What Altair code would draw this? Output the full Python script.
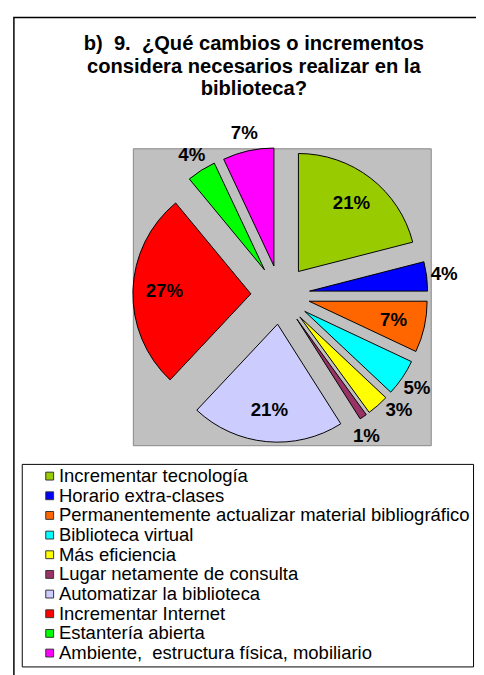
import altair as alt
import pandas as pd

# ---- data ----
categories = [
    "Incrementar tecnología",
    "Horario extra-clases",
    "Permanentemente actualizar material bibliográfico",
    "Biblioteca virtual",
    "Más eficiencia",
    "Lugar netamente de consulta",
    "Automatizar la biblioteca",
    "Incrementar Internet",
    "Estantería abierta",
    "Ambiente,  estructura física, mobiliario",
]
values = [21, 4, 7, 5, 3, 1, 21, 27, 4, 7]
colors = ["#99CC00", "#0000FF", "#FF6600", "#00FFFF", "#FFFF00",
          "#993366", "#CCCCFF", "#FF0000", "#00FF00", "#FF00FF"]

NBSP = "\u00a0"
title_lines = [f"b){NBSP} 9.{NBSP} ¿Qué cambios o incrementos",
               "considera necesarios realizar en la",
               "biblioteca?"]
legend_labels = [c.replace("  ", NBSP + " ") for c in categories]

# ---- label placement (Excel "best fit" result) ----
label_inside = [True, False, True, False, False, False, True, True, False, False]
label_nudge_deg = [0, 0, 0, 0, -4.5, 2.8, 0, 0, 0, 0]

# ---- layout / style ----
W, H = 303, 302
R = 120
EXPLODE = 30
R_LABEL_IN = 118
R_LABEL_OUT = 168
FONT = "Liberation Sans"

df = pd.DataFrame({"cat": legend_labels, "value": values,
                   "inside": label_inside, "nudge": label_nudge_deg,
                   "idx": list(range(len(values)))})

base = (
    alt.Chart(df)
    .transform_joinaggregate(total="sum(value)")
    .transform_window(cum="sum(value)", sort=[alt.SortField("idx")], frame=[None, 0])
    .transform_calculate(t0="2*PI*(datum.cum-datum.value)/datum.total")
    .transform_calculate(t1="2*PI*datum.cum/datum.total")
    .transform_calculate(mid="(datum.t0+datum.t1)/2")
    .transform_calculate(ex=f"{EXPLODE}*sin(datum.mid)")
    .transform_calculate(ey=f"{EXPLODE}*cos(datum.mid)")
    .transform_calculate(lr=f"datum.inside ? {R_LABEL_IN} : {R_LABEL_OUT}")
    .transform_calculate(la="datum.mid + datum.nudge*PI/180")
    .transform_calculate(lx="datum.lr*sin(datum.la)")
    .transform_calculate(ly="datum.lr*cos(datum.la)")
    .transform_calculate(pct="format(datum.value/datum.total, '.0%')")
)

# pie centre sits slightly above/left of the grey square's centre
xs = alt.Scale(domain=[-150, 153])
ys = alt.Scale(domain=[-153, 149])

arcs = base.mark_arc(radius=R, stroke="black", strokeWidth=1).encode(
    x=alt.X("ex:Q", scale=xs, axis=None),
    y=alt.Y("ey:Q", scale=ys, axis=None),
    theta=alt.Theta("t0:Q", scale=None, stack=None),
    theta2="t1:Q",
    color=alt.Color(
        "cat:N",
        scale=alt.Scale(domain=legend_labels, range=colors),
        sort=legend_labels,
        legend=alt.Legend(
            title=None, orient="none", legendX=-113, legendY=321,
            symbolType="square", symbolSize=64,
            symbolStrokeColor="#333333", symbolStrokeWidth=1,
            labelFont=FONT, labelFontSize=18.8, labelColor="black", labelLimit=0,
            strokeColor="black", fillColor="white", padding=3,
            symbolOffset=16, labelOffset=0, rowPadding=0,
        ),
    ),
)

labels = base.mark_text(font=FONT, fontSize=19, fontWeight="bold", color="black").encode(
    x=alt.X("lx:Q", scale=xs, axis=None),
    y=alt.Y("ly:Q", scale=ys, axis=None),
    text="pct:N",
)

border = alt.Chart(pd.DataFrame({"k": [0]})).mark_rect(
    fillOpacity=0, stroke="black", strokeWidth=1.5
).encode(
    x=alt.value(-121), x2=alt.value(520), y=alt.value(-133), y2=alt.value(700)
)

title = alt.Chart(pd.DataFrame({"t": ["\n".join(title_lines)]})).mark_text(
    font=FONT, fontSize=20.5, fontWeight="bold", color="black",
    align="center", baseline="middle", lineBreak="\n", lineHeight=23,
).encode(
    text="t:N", x=alt.value(123), y=alt.value(-106)
)

chart = (
    alt.layer(border, title, arcs, labels)
    .properties(
        width=W, height=H,
        padding={"left": 127, "top": 137, "right": 46, "bottom": 228},
        autosize=alt.AutoSizeParams(type="none"),
        background="white",
    )
    .configure_view(fill="#C0C0C0", stroke="#888888", strokeWidth=1)
)

chart.save("out.html", embed_options={"renderer": "svg", "actions": False})
